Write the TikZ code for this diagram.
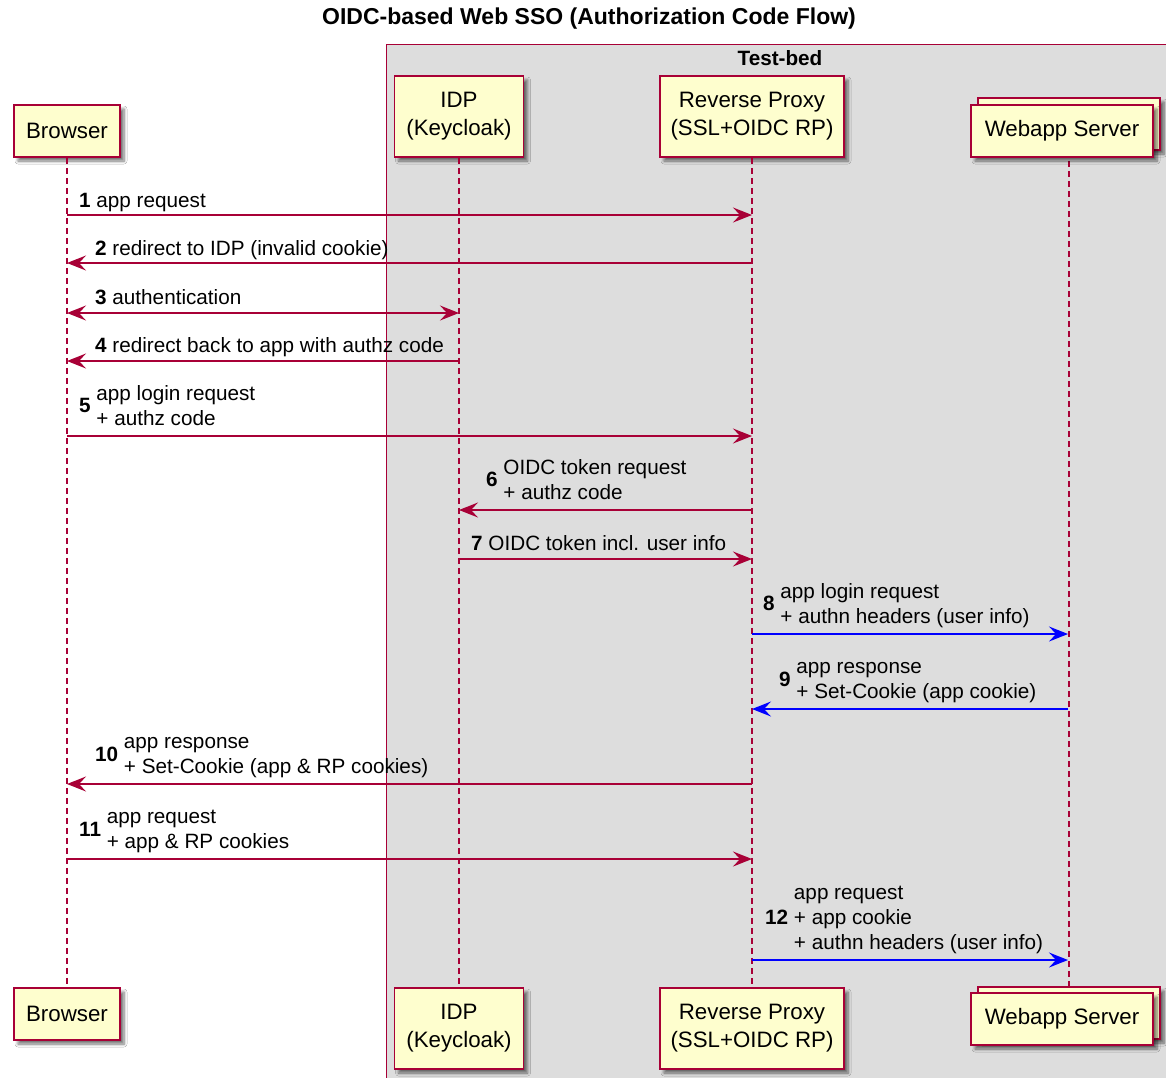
\documentclass[tikz,border=0pt]{standalone}
\usepackage{fontspec}
\setmainfont{Liberation Sans}
\usetikzlibrary{arrows.meta,shadows.blur}
\definecolor{pline}{HTML}{A80036}
\definecolor{pfill}{HTML}{FEFECE}
\definecolor{bedfill}{HTML}{DDDDDD}
\definecolor{pblue}{HTML}{0000FF}
\newcommand\pfnt{\fontsize{22.3}{28}\selectfont}
\newcommand\mfnt{\fontsize{20.7}{25}\selectfont}
\newcommand\tfnt{\fontsize{23}{28}\selectfont}
\tikzset{
  participant/.style={draw=pline, line width=1.5pt, fill=pfill, font=\pfnt, align=center, inner sep=0pt,
    blur shadow={shadow xshift=4pt, shadow yshift=-4pt, shadow blur radius=3pt, shadow blur steps=6, shadow opacity=55}},
  lifeline/.style={draw=pline, line width=1.2pt, dash pattern=on 6pt off 4pt},
  msg/.style={draw=pline, line width=1.3pt, -{Stealth[length=19pt,width=15pt,inset=7pt]}},
  bimsg/.style={msg, {Stealth[length=19pt,width=15pt,inset=7pt]}-{Stealth[length=19pt,width=15pt,inset=7pt]}},
  bmsg/.style={msg, draw=pblue},
  lbl/.style={anchor=south west, inner sep=0pt, font=\mfnt},
  lblone/.style={anchor=base west, inner sep=0pt, font=\mfnt},
}
\begin{document}
\begin{tikzpicture}[x=1pt,y=-1pt]
\clip (0,0) rectangle (1166,1077);
\fill[white] (0,0) rectangle (1166,1077);
% test-bed box
\draw[draw=pline, line width=1pt, fill=bedfill] (386,44) rectangle (1200,1100);
\node[font=\tfnt\bfseries] (title) at (589,19) {OIDC-based Web SSO (Authorization Code Flow)};
\node[font=\mfnt\bfseries] (bed) at (780,58) {Test-bed};
% participant boxes (top)
\node[participant, minimum width=106pt, minimum height=52pt] (bTop) at (67,131) {Browser};
\node[participant, minimum width=129pt, minimum height=81pt] (iTop) at (459,116.5) {IDP\\(Keycloak)};
\node[participant, minimum width=184pt, minimum height=81pt] (rTop) at (752,116.5) {Reverse Proxy\\(SSL+OIDC RP)};
\node[participant, minimum width=182pt, minimum height=52pt] (wTopB) at (1069,124) {};
% participant boxes (bottom)
\node[participant, minimum width=106pt, minimum height=52pt] (bBot) at (67,1014) {Browser};
\node[participant, minimum width=129pt, minimum height=81pt] (iBot) at (459,1028.5) {IDP\\(Keycloak)};
\node[participant, minimum width=184pt, minimum height=81pt] (rBot) at (752,1028.5) {Reverse Proxy\\(SSL+OIDC RP)};
\node[participant, minimum width=182pt, minimum height=52pt] (wBotB) at (1069,1013) {};
% lifelines
\draw[lifeline] (bTop.south) -- (bBot.north);
\draw[lifeline] (iTop.south) -- (iBot.north);
\draw[lifeline] (rTop.south) -- (rBot.north);
\draw[lifeline] (wTopB.south) -- (wBotB.north);
% webapp front boxes
\node[participant, minimum width=182pt, minimum height=52pt] (wTop) at (1062,131) {Webapp Server};
\node[participant, minimum width=182pt, minimum height=52pt] (wBot) at (1062,1019) {Webapp Server};
% message end points
\coordinate (m1a) at (67,215);  \coordinate (m1b) at (752,215);
\coordinate (m2a) at (752,263); \coordinate (m2b) at (67,263);
\coordinate (m3a) at (67,313);  \coordinate (m3b) at (459,313);
\coordinate (m4a) at (459,361); \coordinate (m4b) at (67,361);
\coordinate (m5a) at (67,436);  \coordinate (m5b) at (752,436);
\coordinate (m6a) at (752,510); \coordinate (m6b) at (459,510);
\coordinate (m7a) at (459,559); \coordinate (m7b) at (752,559);
\coordinate (m8a) at (752,634); \coordinate (m8b) at (1068,634);
\coordinate (m9a) at (1068,709); \coordinate (m9b) at (752,709);
\coordinate (m10a) at (752,784); \coordinate (m10b) at (67,784);
\coordinate (m11a) at (67,859); \coordinate (m11b) at (752,859);
\coordinate (m12a) at (752,960); \coordinate (m12b) at (1068,960);
% messages
\draw[msg] (m1a) -- (m1b);
\draw[msg] (m2a) -- (m2b);
\draw[bimsg] (m3a) -- (m3b);
\draw[msg] (m4a) -- (m4b);
\draw[msg] (m5a) -- (m5b);
\draw[msg] (m6a) -- (m6b);
\draw[msg] (m7a) -- (m7b);
\draw[bmsg] (m8a) -- (m8b);
\draw[bmsg] (m9a) -- (m9b);
\draw[msg] (m10a) -- (m10b);
\draw[msg] (m11a) -- (m11b);
\draw[bmsg] (m12a) -- (m12b);
% labels
\node[lblone] (l1) at (79,207) {\textbf{1} app request};
\node[lblone] (l2) at (95,255) {\textbf{2} redirect to IDP (invalid cookie)};
\node[lblone] (l3) at (95,304) {\textbf{3} authentication};
\node[lblone] (l4) at (95,352) {\textbf{4} redirect back to app with authz code};
\node[lbl] (l5) at (79,433) {\textbf{5} \begin{tabular}[c]{@{}l@{}}app login request\\+ authz code\end{tabular}};
\node[lbl] (l6) at (486,507) {\textbf{6} \begin{tabular}[c]{@{}l@{}}OIDC token request\\+ authz code\end{tabular}};
\node[lblone] (l7) at (471,550) {\textbf{7} OIDC token incl. user info};
\node[lbl] (l8) at (763,631) {\textbf{8} \begin{tabular}[c]{@{}l@{}}app login request\\+ authn headers (user info)\end{tabular}};
\node[lbl] (l9) at (779,706) {\textbf{9} \begin{tabular}[c]{@{}l@{}}app response\\+ Set-Cookie (app cookie)\end{tabular}};
\node[lbl] (l10) at (95,781) {\textbf{10} \begin{tabular}[c]{@{}l@{}}app response\\+ Set-Cookie (app \& RP cookies)\end{tabular}};
\node[lbl] (l11) at (79,856) {\textbf{11} \begin{tabular}[c]{@{}l@{}}app request\\+ app \& RP cookies\end{tabular}};
\node[lbl] (l12) at (765,957) {\textbf{12} \begin{tabular}[c]{@{}l@{}}app request\\+ app cookie\\+ authn headers (user info)\end{tabular}};
\end{tikzpicture}
\end{document}
